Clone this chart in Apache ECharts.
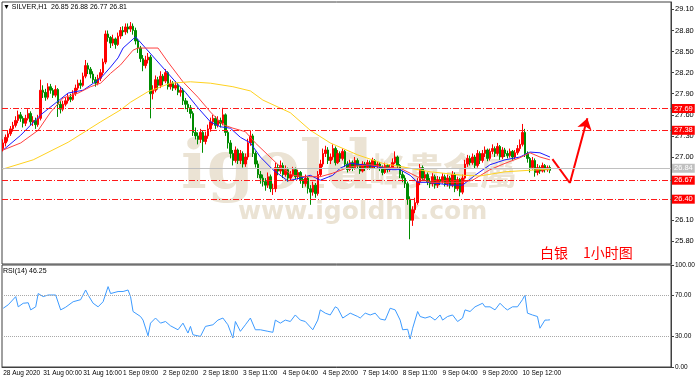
<!DOCTYPE html>
<html>
<head>
<meta charset="utf-8">
<script src="https://cdn.jsdelivr.net/npm/echarts@6/dist/echarts.min.js"></script>
<style>
html, body { margin: 0; padding: 0; background: #fff; }
#chart { width: 700px; height: 381px; }
</style>
</head>
<body>
<div id="chart"></div>
<script>
// ---- values (SILVER, H1) ----
var tickLabels = ['28 Aug 2020', '31 Aug 00:00', '31 Aug 16:00', '1 Sep 09:00', '2 Sep 02:00',
  '2 Sep 18:00', '3 Sep 11:00', '4 Sep 04:00', '4 Sep 20:00', '7 Sep 14:00', '8 Sep 11:00',
  '9 Sep 04:00', '9 Sep 20:00', '10 Sep 12:00'];

var firstOpen = 27.12;
var closes = [
  27.20, 27.28, 27.33, 27.40, 27.45, 27.52, 27.60, 27.55, 27.48, 27.55,
  27.62, 27.50, 27.52, 27.46, 27.55, 27.95, 27.92, 27.85, 28.00, 27.95,
  27.88, 27.96, 27.75, 27.68, 27.75, 27.80, 27.85, 27.82, 27.90, 27.98,
  28.05, 28.02, 28.15, 28.30, 28.25, 28.18, 28.10, 28.05, 28.12, 28.20,
  28.35, 28.75, 28.70, 28.62, 28.68, 28.60, 28.72, 28.80, 28.78, 28.85,
  28.82, 28.86, 28.80, 28.65, 28.55, 28.40, 28.30, 28.38, 28.42, 27.90,
  27.95, 28.10, 28.02, 28.15, 28.08, 28.20, 28.00, 28.05, 27.98, 28.02,
  27.92, 27.95, 27.80, 27.75, 27.70, 27.62, 27.35, 27.30, 27.25, 27.35,
  27.22, 27.30, 27.40, 27.50, 27.55, 27.45, 27.52, 27.48, 27.60, 27.35,
  27.20, 27.05, 26.95, 27.10, 26.95, 27.05, 26.90, 27.00, 27.20, 27.30,
  27.05, 26.90, 26.75, 26.70, 26.65, 26.60, 26.72, 26.55, 26.55, 26.85,
  26.80, 26.88, 26.75, 26.82, 26.70, 26.75, 26.82, 26.72, 26.78, 26.68,
  26.62, 26.70, 26.55, 26.50, 26.60, 26.48, 26.75, 26.90, 27.05, 27.10,
  26.95, 27.00, 27.12, 26.92, 27.05, 26.98, 27.08, 26.90, 26.82, 26.92,
  26.85, 26.95, 26.88, 26.80, 26.90, 26.85, 26.92, 26.85, 26.95, 26.88,
  26.90, 26.85, 26.78, 26.88, 26.82, 26.85, 26.92, 27.00, 26.88, 26.75,
  26.70, 26.62, 26.40, 26.10, 26.25, 26.35, 26.65, 26.85, 26.70, 26.75,
  26.65, 26.62, 26.72, 26.60, 26.68, 26.65, 26.72, 26.62, 26.70, 26.60,
  26.75, 26.55, 26.68, 26.50, 26.70, 26.90, 26.98, 26.92, 27.00, 26.88,
  27.05, 26.95, 27.05, 27.10, 26.98, 27.08, 27.12, 27.05, 27.15, 27.00,
  27.10, 27.05, 27.02, 27.08, 27.00, 27.06, 27.12, 27.18, 27.35, 27.05,
  26.98, 26.85, 26.95, 26.78, 26.85, 26.80, 26.88, 26.82, 26.85, 26.81
];
var highs = [
  27.25, 27.32, 27.38, 27.44, 27.50, 27.58, 27.66, 27.64, 27.58, 27.60,
  27.68, 27.65, 27.58, 27.56, 27.60, 28.10, 28.02, 27.97, 28.05, 28.04,
  27.98, 28.02, 27.98, 27.80, 27.80, 27.85, 27.90, 27.90, 27.95, 28.03,
  28.10, 28.10, 28.20, 28.38, 28.34, 28.28, 28.22, 28.14, 28.17, 28.25,
  28.40, 28.80, 28.80, 28.72, 28.74, 28.70, 28.77, 28.85, 28.86, 28.90,
  28.90, 28.92, 28.90, 28.84, 28.68, 28.58, 28.45, 28.44, 28.48, 28.45,
  28.02, 28.16, 28.14, 28.22, 28.18, 28.25, 28.22, 28.10, 28.08, 28.08,
  28.05, 28.00, 27.98, 27.84, 27.80, 27.74, 27.65, 27.42, 27.35, 27.40,
  27.38, 27.36, 27.46, 27.56, 27.60, 27.58, 27.58, 27.56, 27.70, 27.62,
  27.38, 27.24, 27.10, 27.15, 27.12, 27.10, 27.08, 27.05, 27.26, 27.38,
  27.33, 27.08, 26.95, 26.80, 26.75, 26.70, 26.78, 26.75, 26.62, 26.92,
  26.90, 26.95, 26.92, 26.88, 26.85, 26.80, 26.86, 26.85, 26.82, 26.80,
  26.72, 26.75, 26.72, 26.60, 26.65, 26.63, 26.80, 26.96, 27.12, 27.16,
  27.14, 27.05, 27.18, 27.15, 27.10, 27.08, 27.12, 27.10, 26.94, 26.96,
  26.95, 27.00, 26.98, 26.90, 26.94, 26.93, 26.96, 26.95, 26.99, 26.97,
  26.94, 26.93, 26.88, 26.92, 26.90, 26.90, 26.98, 27.08, 27.02, 26.90,
  26.80, 26.74, 26.65, 26.44, 26.30, 26.42, 26.70, 26.90, 26.88, 26.80,
  26.78, 26.70, 26.77, 26.75, 26.73, 26.72, 26.77, 26.75, 26.75, 26.73,
  26.80, 26.78, 26.72, 26.70, 26.75, 26.96, 27.03, 27.02, 27.05, 27.03,
  27.10, 27.08, 27.10, 27.15, 27.12, 27.12, 27.18, 27.15, 27.20, 27.17,
  27.14, 27.13, 27.09, 27.12, 27.10, 27.10, 27.17, 27.25, 27.47, 27.40,
  27.08, 27.00, 27.00, 26.98, 26.90, 26.88, 26.92, 26.90, 26.88, 26.88
];
var lows = [
  27.08, 27.15, 27.22, 27.30, 27.36, 27.42, 27.48, 27.50, 27.42, 27.44,
  27.52, 27.45, 27.44, 27.40, 27.43, 27.52, 27.84, 27.80, 27.82, 27.90,
  27.84, 27.85, 27.57, 27.62, 27.65, 27.72, 27.76, 27.78, 27.80, 27.87,
  27.95, 27.97, 28.00, 28.12, 28.18, 28.12, 28.05, 28.00, 28.02, 28.08,
  28.16, 28.32, 28.64, 28.55, 28.58, 28.54, 28.58, 28.68, 28.72, 28.74,
  28.76, 28.78, 28.74, 28.60, 28.48, 28.35, 28.22, 28.26, 28.33, 27.55,
  27.82, 27.92, 27.96, 27.98, 28.02, 28.05, 27.96, 27.96, 27.94, 27.95,
  27.88, 27.86, 27.74, 27.68, 27.64, 27.55, 27.30, 27.25, 27.18, 27.20,
  27.06, 27.18, 27.26, 27.36, 27.45, 27.40, 27.42, 27.42, 27.45, 27.30,
  27.12, 26.98, 26.88, 26.92, 26.90, 26.90, 26.85, 26.86, 26.96, 27.16,
  27.00, 26.85, 26.70, 26.62, 26.58, 26.52, 26.56, 26.50, 26.46, 26.50,
  26.74, 26.76, 26.70, 26.72, 26.65, 26.66, 26.72, 26.68, 26.68, 26.62,
  26.56, 26.58, 26.48, 26.32, 26.45, 26.42, 26.45, 26.72, 26.86, 27.00,
  26.90, 26.90, 26.96, 26.88, 26.90, 26.93, 26.95, 26.86, 26.78, 26.80,
  26.80, 26.82, 26.84, 26.76, 26.78, 26.80, 26.82, 26.82, 26.83, 26.84,
  26.84, 26.80, 26.74, 26.76, 26.78, 26.79, 26.83, 26.90, 26.84, 26.70,
  26.64, 26.56, 26.32, 25.83, 26.02, 26.20, 26.32, 26.60, 26.66, 26.66,
  26.60, 26.56, 26.58, 26.55, 26.56, 26.60, 26.62, 26.58, 26.58, 26.55,
  26.57, 26.50, 26.52, 26.44, 26.47, 26.68, 26.86, 26.88, 26.89, 26.84,
  26.85, 26.90, 26.92, 27.00, 26.94, 26.95, 27.04, 27.00, 27.02, 26.96,
  26.97, 27.00, 26.98, 26.99, 26.96, 26.97, 27.03, 27.08, 27.15, 27.00,
  26.92, 26.78, 26.82, 26.72, 26.74, 26.76, 26.78, 26.78, 26.79, 26.77
];

// moving averages, sampled along the drawn curves as [bar, price]
var maFast = [[0, 27.10], [7, 27.31], [15, 27.60], [26, 27.91], [32, 27.95], [39, 28.12],
  [43, 28.28], [46, 28.41], [48, 28.55], [53, 28.71], [57, 28.55], [63, 28.31], [69, 28.07],
  [73, 27.92], [78, 27.70], [83, 27.50], [87, 27.43], [91, 27.41], [95, 27.28], [99, 27.20],
  [103, 27.00], [108, 26.82], [114, 26.66], [119, 26.70], [123, 26.74], [127, 26.67],
  [132, 26.74], [135, 26.84], [139, 26.91], [144, 26.89], [150, 26.86], [155, 26.82],
  [159, 26.82], [163, 26.74], [166, 26.64], [170, 26.64], [175, 26.62], [179, 26.60],
  [184, 26.60], [189, 26.74], [195, 26.89], [201, 26.96], [207, 27.00], [211, 27.07],
  [215, 27.06], [219, 27.00]];
var maMid = [[0, 27.10], [7, 27.20], [14, 27.38], [19, 27.64], [24, 27.84], [30, 27.91],
  [35, 28.00], [39, 28.05], [43, 28.19], [47, 28.31], [52, 28.52], [54, 28.55], [62, 28.55],
  [66, 28.35], [72, 28.07], [78, 27.85], [83, 27.64], [88, 27.46], [92, 27.41], [97, 27.36],
  [101, 27.20], [106, 27.03], [111, 26.86], [116, 26.74], [121, 26.72], [127, 26.72],
  [132, 26.77], [139, 26.86], [147, 26.89], [152, 26.86], [159, 26.84], [163, 26.77],
  [167, 26.70], [171, 26.64], [179, 26.64], [183, 26.64], [188, 26.67], [195, 26.82],
  [201, 26.91], [207, 26.99], [211, 27.06], [215, 27.00], [219, 26.96]];
var maSlow = [[0, 26.83], [12, 26.96], [26, 27.21], [39, 27.50], [47, 27.67], [51, 27.78],
  [58, 27.93], [67, 28.05], [75, 28.07], [83, 28.05], [92, 28.00], [99, 27.94], [104, 27.81],
  [115, 27.63], [123, 27.38], [131, 27.20], [142, 27.03], [152, 26.91], [163, 26.84],
  [171, 26.79], [184, 26.74], [191, 26.73], [201, 26.79], [215, 26.82], [219, 26.82]];

// RSI(14), sampled along the drawn curve as [bar, value]
var rsi = [[0, 57.6], [2, 61], [5, 69], [6, 59], [8, 62.5], [10, 63], [11, 56], [13, 59],
  [14, 72], [16, 69], [18, 70.6], [21, 70.6], [23, 56], [25, 58.6], [28, 64], [31, 66],
  [33, 75.5], [34, 70.6], [36, 62.5], [38, 59], [40, 64], [42, 78.8], [43, 72], [46, 74],
  [48, 74], [50, 75.5], [51, 69], [52, 54.4], [55, 49.5], [56, 46], [58, 30.6], [59, 43],
  [61, 48], [63, 43], [65, 44.6], [67, 40.4], [70, 36.5], [72, 43], [74, 33.3], [75, 39.8],
  [76, 31.6], [79, 30], [81, 39.8], [84, 41.4], [86, 46], [88, 48], [90, 41.4], [92, 28.4],
  [93, 44.6], [95, 35], [97, 41.4], [99, 48], [101, 36.5], [103, 36.5], [106, 35], [108, 34],
  [109, 46], [111, 43], [113, 46], [115, 44.6], [117, 51], [119, 46], [121, 44.6], [124, 36.5],
  [126, 46], [127, 56], [129, 52.8], [131, 51], [133, 59], [134, 57.6], [136, 48], [139, 52.8],
  [142, 49.5], [143, 48], [145, 52.8], [147, 51], [149, 52.8], [151, 47], [153, 46], [155, 57.6],
  [157, 56], [159, 46], [160, 36.5], [162, 37], [163, 27.4], [164, 38], [166, 54.4], [167, 49.5],
  [169, 48], [171, 49.5], [173, 46], [175, 51], [176, 46], [178, 49.5], [180, 51], [182, 44.6],
  [184, 48], [185, 56], [187, 54.4], [189, 59], [192, 62.5], [193, 59], [195, 59], [197, 56],
  [199, 62.5], [201, 57.6], [202, 56], [204, 59], [206, 59], [208, 66], [209, 70.6], [210, 52.8],
  [212, 51], [214, 49.5], [215, 38], [217, 46], [218, 46], [219, 46.25]];

var levels = [27.69, 27.38, 26.67, 26.40];
var bidPrice = 26.84;
var priceTicks = [25.80, 26.10, 26.40, 26.70, 27.00, 27.30, 27.60, 27.90, 28.20, 28.50, 28.80, 29.10];
var priceLabels = [25.80, 26.10, 27.00, 27.30, 27.60, 27.90, 28.20, 28.50, 28.80, 29.10];
var rsiLevels = [30, 70];
var rsiLabels = [0, 30, 70, 100];
var arrowDown = [[220, 26.97], [227, 26.63]];
var arrowUp = [[227, 26.63], [234, 27.55]];

// ---- chart ----
var chart = echarts.init(document.getElementById('chart'));
var totalBars = 268;
var cats = [];
for (var i = 0; i < totalBars; i++) cats.push(i);

var ohlc = closes.map(function (c, i) {
  var o = i === 0 ? firstOpen : closes[i - 1];
  return [o, c, lows[i], highs[i]];
});

function everySixteen(idx) { return idx % 16 === 0; }
var dashDot = [6, 2, 1, 2];
var smallFont = 'Liberation Sans';
var watermark = '#ebe3d4';

var levelLines = levels.map(function (v) {
  return {
    yAxis: v,
    lineStyle: { color: '#ff1a1a', type: dashDot, width: 1 },
    label: { backgroundColor: '#ff0000', color: '#fff' }
  };
});
levelLines.push({
  yAxis: bidPrice,
  lineStyle: { color: '#c0c0c0', type: 'solid', width: 1 },
  label: { backgroundColor: '#c0c0c0', color: '#fff' }
});

option = {
  animation: false,
  backgroundColor: '#fff',
  grid: [
    { left: 2, top: 2, width: 669, height: 262, show: true, borderColor: '#404040', borderWidth: 1 },
    { left: 2, top: 265, width: 669, height: 102, show: true, borderColor: '#404040', borderWidth: 1 }
  ],
  xAxis: [
    {
      type: 'category', gridIndex: 0, data: cats,
      axisLine: { show: false }, axisTick: { show: false }, axisLabel: { show: false }
    },
    {
      type: 'category', gridIndex: 1, data: cats,
      axisLine: { lineStyle: { color: '#404040' } },
      axisTick: { interval: everySixteen, length: 3, lineStyle: { color: '#404040' } },
      axisLabel: {
        interval: everySixteen, align: 'left', margin: 3,
        fontFamily: smallFont, fontSize: 6.5, color: '#000',
        formatter: function (v, idx) { return tickLabels[idx / 16] || ''; }
      }
    }
  ],
  yAxis: [
    {
      type: 'value', gridIndex: 0, position: 'right', min: 25.478, max: 29.205,
      splitLine: { show: false },
      axisLine: { show: true, lineStyle: { color: '#404040' } },
      axisTick: { show: true, length: 3, customValues: priceTicks, lineStyle: { color: '#404040' } },
      axisLabel: {
        customValues: priceLabels, margin: 4, fontFamily: smallFont, fontSize: 7.5, color: '#000',
        formatter: function (v) { return v.toFixed(2); }
      }
    },
    {
      type: 'value', gridIndex: 1, position: 'right', min: 0, max: 100,
      splitLine: { show: false },
      axisLine: { show: true, lineStyle: { color: '#404040' } },
      axisTick: { show: true, length: 3, customValues: rsiLabels, lineStyle: { color: '#404040' } },
      axisLabel: {
        customValues: rsiLabels, margin: 4, fontFamily: smallFont, fontSize: 6.5, color: '#000',
        formatter: function (v) { return v.toFixed(2); }
      }
    }
  ],
  series: [
    {
      name: 'SILVER', type: 'candlestick', xAxisIndex: 0, yAxisIndex: 0,
      data: ohlc, barWidth: 2,
      itemStyle: { color: '#ff0000', color0: '#008c00', borderColor: '#ff0000', borderColor0: '#008c00', borderWidth: 1 },
      markLine: {
        silent: true, symbol: 'none', animation: false,
        label: {
          position: 'end', distance: 1, fontFamily: smallFont, fontSize: 7.5,
          padding: [1, 2, 0, 2],
          formatter: function (p) { return p.value.toFixed(2); }
        },
        data: levelLines
      }
    },
    {
      name: 'MA fast', type: 'line', xAxisIndex: 0, yAxisIndex: 0, data: maFast,
      symbol: 'none', lineStyle: { color: '#1a1aff', width: 1 }, z: 3
    },
    {
      name: 'MA mid', type: 'line', xAxisIndex: 0, yAxisIndex: 0, data: maMid,
      symbol: 'none', lineStyle: { color: '#ff4040', width: 1 }, z: 3
    },
    {
      name: 'MA slow', type: 'line', xAxisIndex: 0, yAxisIndex: 0, data: maSlow,
      symbol: 'none', lineStyle: { color: '#ffd21f', width: 1 }, z: 3
    },
    {
      name: 'arrow down', type: 'lines', coordinateSystem: 'cartesian2d', xAxisIndex: 0, yAxisIndex: 0,
      data: [{ coords: arrowDown }], symbol: 'none',
      lineStyle: { color: '#ff0000', width: 2, opacity: 1 }, z: 4
    },
    {
      name: 'arrow up', type: 'lines', coordinateSystem: 'cartesian2d', xAxisIndex: 0, yAxisIndex: 0,
      data: [{ coords: arrowUp }], symbol: ['none', 'arrow'], symbolSize: [8, 11],
      lineStyle: { color: '#ff0000', width: 2, opacity: 1 }, z: 4
    },
    {
      name: 'RSI(14)', type: 'line', xAxisIndex: 1, yAxisIndex: 1, data: rsi,
      symbol: 'none', lineStyle: { color: '#3d9bff', width: 1 },
      markLine: {
        silent: true, symbol: 'none', label: { show: false },
        lineStyle: { color: '#a8a8a8', type: 'dotted', width: 1 },
        data: rsiLevels.map(function (v) { return { yAxis: v }; })
      }
    }
  ],
  graphic: [
    // site watermark
    { type: 'text', z: -1, left: 181, top: 136, silent: true,
      style: { text: 'igold', font: 'bold 68px "DejaVu Serif"', fill: watermark } },
    { type: 'text', z: -1, left: 332, top: 152, silent: true,
      style: { text: '資峰貴金屬', font: 'bold 37px "Noto Sans CJK TC"', fill: watermark } },
    { type: 'text', z: -1, left: 238, top: 200, silent: true,
      style: { text: 'www.igoldhk.com', font: 'bold 25px "DejaVu Sans"', fill: watermark } },
    // header texts
    { type: 'text', left: 3, top: 4,
      style: { text: '\u25BC SILVER,H1  26.85 26.88 26.77 26.81', font: '7px "Liberation Sans"', fill: '#000' } },
    { type: 'text', left: 3, top: 268,
      style: { text: 'RSI(14) 46.25', font: '7px "Liberation Sans"', fill: '#000' } },
    { type: 'text', left: 540, top: 246,
      style: { text: '白银', font: '14px "Noto Sans CJK SC"', fill: '#ff0000' } },
    { type: 'text', left: 583, top: 246,
      style: { text: '1小时图', font: '14px "Noto Sans CJK SC"', fill: '#ff0000' } }
  ]
};

chart.setOption(option);
</script>
</body>
</html>
